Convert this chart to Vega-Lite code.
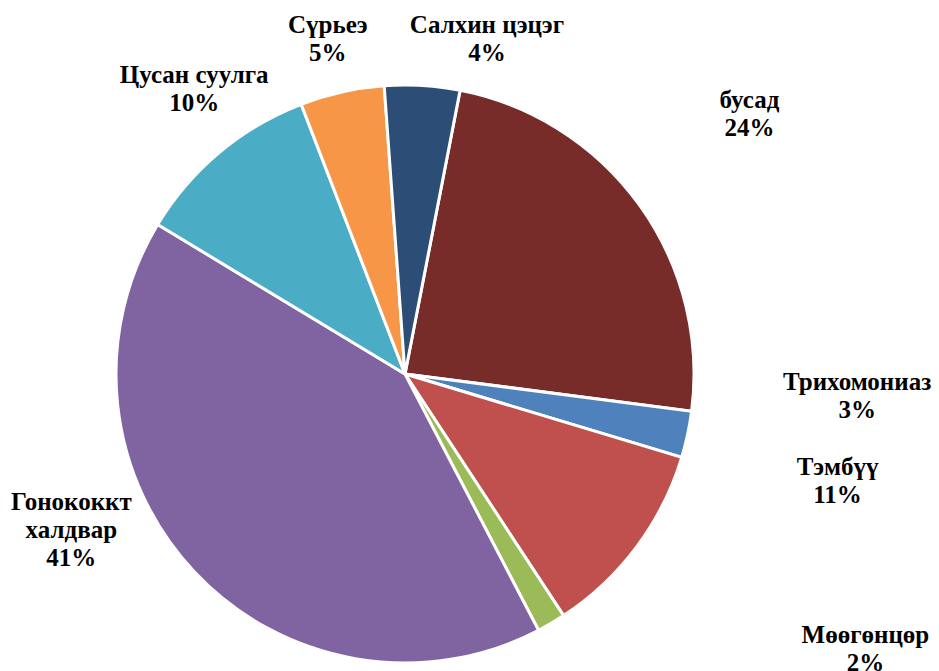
{
  "$schema": "https://vega.github.io/schema/vega-lite/v6.json",
  "width": 810,
  "height": 594,
  "autosize": {"type": "none"},
  "padding": {"left": 0, "top": 77, "right": 129, "bottom": 0},
  "background": "white",
  "config": {"view": {"stroke": null}},
  "data": {"values": [
    {"i": 1, "k": "бусад", "v": 24.0, "label": "бусад\n24%"},
    {"i": 2, "k": "Трихомониаз", "v": 2.6, "label": "Трихомониаз\n3%"},
    {"i": 3, "k": "Тэмбүү", "v": 11.1, "label": "Тэмбүү\n11%"},
    {"i": 4, "k": "Мөөгөнцөр", "v": 1.6, "label": "Мөөгөнцөр\n2%"},
    {"i": 5, "k": "Гонококкт халдвар", "v": 41.3, "label": "Гонококкт\nхалдвар\n41%"},
    {"i": 6, "k": "Цусан суулга", "v": 10.5, "label": "Цусан суулга\n10%"},
    {"i": 7, "k": "Сүрьеэ", "v": 4.7, "label": "Сүрьеэ\n5%"},
    {"i": 8, "k": "Салхин цэцэг", "v": 4.2, "label": "Салхин цэцэг\n4%"}
  ]},
  "encoding": {
    "theta": {"field": "v", "type": "quantitative", "stack": true, "scale": {"domain": [0, 100], "range": [0.192, 6.475]}},
    "order": {"field": "i", "type": "quantitative"}
  },
  "layer": [
    {
      "mark": {"type": "arc", "outerRadius": 289, "stroke": "white", "strokeWidth": 3},
      "encoding": {
        "color": {"field": "k", "type": "nominal", "legend": null,
          "scale": {"domain": ["бусад", "Трихомониаз", "Тэмбүү", "Мөөгөнцөр", "Гонококкт халдвар", "Цусан суулга", "Сүрьеэ", "Салхин цэцэг"],
                    "range": ["#772C2A", "#4F81BD", "#C0504D", "#9BBB59", "#8064A2", "#4BACC6", "#F79646", "#2C4D75"]}}
      }
    },
    {
      "mark": {"type": "text", "radius": 400, "dx": 20, "dy": -40, "font": "Liberation Serif", "fontWeight": "bold", "fontSize": 25, "lineHeight": 28, "lineBreak": "\n", "align": "center", "baseline": "middle", "color": "black"},
      "encoding": {"text": {"condition": {"test": "datum.i == 1", "field": "label"}, "value": ""}}
    },
    {
      "mark": {"type": "text", "radius": 400, "dx": 61, "dy": -76, "font": "Liberation Serif", "fontWeight": "bold", "fontSize": 25, "lineHeight": 28, "lineBreak": "\n", "align": "center", "baseline": "middle", "color": "black"},
      "encoding": {"text": {"condition": {"test": "datum.i == 2", "field": "label"}, "value": ""}}
    },
    {
      "mark": {"type": "text", "radius": 400, "dx": 112, "dy": -146, "font": "Liberation Serif", "fontWeight": "bold", "fontSize": 25, "lineHeight": 28, "lineBreak": "\n", "align": "center", "baseline": "middle", "color": "black"},
      "encoding": {"text": {"condition": {"test": "datum.i == 3", "field": "label"}, "value": ""}}
    },
    {
      "mark": {"type": "text", "radius": 400, "dx": 258, "dy": -84, "font": "Liberation Serif", "fontWeight": "bold", "fontSize": 25, "lineHeight": 28, "lineBreak": "\n", "align": "center", "baseline": "middle", "color": "black"},
      "encoding": {"text": {"condition": {"test": "datum.i == 4", "field": "label"}, "value": ""}}
    },
    {
      "mark": {"type": "text", "radius": 400, "dx": -42, "dy": -146, "font": "Liberation Serif", "fontWeight": "bold", "fontSize": 25, "lineHeight": 28, "lineBreak": "\n", "align": "center", "baseline": "middle", "color": "black"},
      "encoding": {"text": {"condition": {"test": "datum.i == 5", "field": "label"}, "value": ""}}
    },
    {
      "mark": {"type": "text", "radius": 400, "dx": 46, "dy": 8, "font": "Liberation Serif", "fontWeight": "bold", "fontSize": 25, "lineHeight": 28, "lineBreak": "\n", "align": "center", "baseline": "middle", "color": "black"},
      "encoding": {"text": {"condition": {"test": "datum.i == 6", "field": "label"}, "value": ""}}
    },
    {
      "mark": {"type": "text", "radius": 400, "dx": 10, "dy": 41, "font": "Liberation Serif", "fontWeight": "bold", "fontSize": 25, "lineHeight": 28, "lineBreak": "\n", "align": "center", "baseline": "middle", "color": "black"},
      "encoding": {"text": {"condition": {"test": "datum.i == 7", "field": "label"}, "value": ""}}
    },
    {
      "mark": {"type": "text", "radius": 400, "dx": 58, "dy": 50, "font": "Liberation Serif", "fontWeight": "bold", "fontSize": 25, "lineHeight": 28, "lineBreak": "\n", "align": "center", "baseline": "middle", "color": "black"},
      "encoding": {"text": {"condition": {"test": "datum.i == 8", "field": "label"}, "value": ""}}
    }
  ]
}
